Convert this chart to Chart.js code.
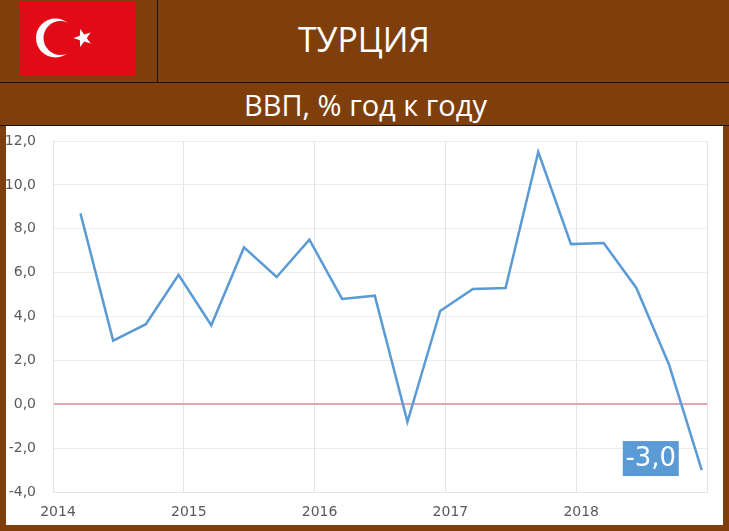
<!DOCTYPE html>
<html lang="ru">
<head>
<meta charset="utf-8">
<title>Турция – ВВП</title>
<script src="https://cdn.jsdelivr.net/npm/chart.js@4/dist/chart.umd.min.js"></script>
<style>
    html, body { margin: 0; padding: 0; }
    body { width: 729px; height: 531px; background: #7f3f0c; position: relative; overflow: hidden; font-family: 'Open Sans', sans-serif; color: #fff; }
    .flag { position: absolute; left: 19px; top: 1px; }
    .vline { position: absolute; left: 157px; top: 0; width: 1px; height: 82px; background: #1a1208; }
    .hline { position: absolute; left: 0; width: 729px; height: 1px; background: #1a1208; }
    .title { position: absolute; left: 298px; top: 17px; font-size: 33.8px; line-height: 44px; white-space: nowrap; }
    .subtitle { position: absolute; left: 244px; top: 85px; font-size: 29px; line-height: 40px; white-space: nowrap; }
    .plot { position: absolute; left: 6px; top: 126px; width: 717px; height: 399px; background: #fff; }
</style>
</head>
<body>
    <svg class="flag" width="117" height="74" viewBox="0 0 117 74">
        <rect width="117" height="74" fill="#e30a17"/>
        <circle cx="36.5" cy="37" r="19.5" fill="#fff"/>
        <circle cx="41.5" cy="37" r="17" fill="#e30a17"/>
        <polygon points="54.5,37 60.9,34.8 61.1,28 65.2,33.4 71.7,31.4 67.8,37 71.7,42.6 65.2,40.6 61.1,46 60.9,39.2" fill="#fff"/>
    </svg>
    <div class="vline"></div>
    <div class="hline" style="top:82px"></div>
    <div class="hline" style="top:125px"></div>
    <div class="title">ТУРЦИЯ</div>
    <div class="subtitle">ВВП, % год к году</div>
    <div class="plot"><canvas id="gdpChart" width="717" height="399"></canvas></div>

<script>
    /* ── Data ── */
    const quarters = [2014.21, 2014.46, 2014.71, 2014.96, 2015.21, 2015.46, 2015.71, 2015.96, 2016.21, 2016.46,
                      2016.71, 2016.96, 2017.21, 2017.46, 2017.71, 2017.96, 2018.21, 2018.46, 2018.71, 2018.96];
    const gdpValues = [8.7, 2.9, 3.65, 5.9, 3.6, 7.15, 5.8, 7.5, 4.8, 4.95,
                       -0.8, 4.25, 5.25, 5.3, 11.5, 7.3, 7.35, 5.3, 1.8, -3.0];
    const yearTicks = [2014, 2015, 2016, 2017, 2018];
    const lastLabel = '-3,0';

    const fmt = v => v.toFixed(1).replace('.', ',');
    const tickFont = { family: "'DejaVu Sans', sans-serif", size: 14 };

    /* ── Label box next to the last point ── */
    const lastLabelPlugin = {
        id: 'lastLabel',
        afterDatasetsDraw(chart) {
            const pts = chart.getDatasetMeta(0).data;
            const p = pts[pts.length - 1];
            const ctx = chart.ctx;
            ctx.save();
            ctx.fillStyle = '#5b9bd5';
            ctx.fillRect(p.x - 79, p.y - 29, 56, 35);
            ctx.fillStyle = '#fff';
            ctx.font = "26px 'DejaVu Sans', sans-serif";
            ctx.textAlign = 'center';
            ctx.textBaseline = 'middle';
            ctx.fillText(lastLabel, p.x - 51, p.y - 11);
            ctx.restore();
        }
    };

    new Chart(document.getElementById('gdpChart'), {
        type: 'line',
        data: {
            datasets: [{
                data: quarters.map((q, i) => ({ x: q, y: gdpValues[i] })),
                borderColor: '#5b9bd5',
                borderWidth: 2.5,
                pointRadius: 0,
                tension: 0,
            }]
        },
        options: {
            responsive: false,
            animation: false,
            layout: { padding: { top: 15, right: 16, left: 0, bottom: 0 } },
            plugins: { legend: { display: false }, tooltip: { enabled: false } },
            scales: {
                x: {
                    type: 'linear', min: 2014, max: 2019,
                    afterBuildTicks: s => { s.ticks = yearTicks.concat(2019).map(v => ({ value: v })); },
                    grid: { color: '#e4e4e4', drawTicks: false },
                    border: { color: '#e4e4e4' },
                    ticks: {
                        callback: v => yearTicks.includes(v) ? String(v) : '',
                        color: '#595959', font: tickFont, padding: 12, labelOffset: 5, maxRotation: 0, autoSkip: false,
                    },
                    afterFit: s => { s.height = 33; s.paddingLeft = 0; s.paddingRight = 0; },
                },
                y: {
                    min: -4, max: 12,
                    grid: {
                        color: c => c.tick.value === 0 ? '#e3a5a8' : '#ececec',
                        lineWidth: c => c.tick.value === 0 ? 2 : 1,
                        drawTicks: false,
                    },
                    border: { color: '#e4e4e4' },
                    ticks: { stepSize: 2, callback: v => fmt(v), color: '#595959', font: tickFont, padding: 17 },
                    afterFit: s => { s.width = 47; s.paddingTop = 0; s.paddingBottom = 0; },
                }
            }
        },
        plugins: [lastLabelPlugin]
    });
</script>
</body>
</html>
